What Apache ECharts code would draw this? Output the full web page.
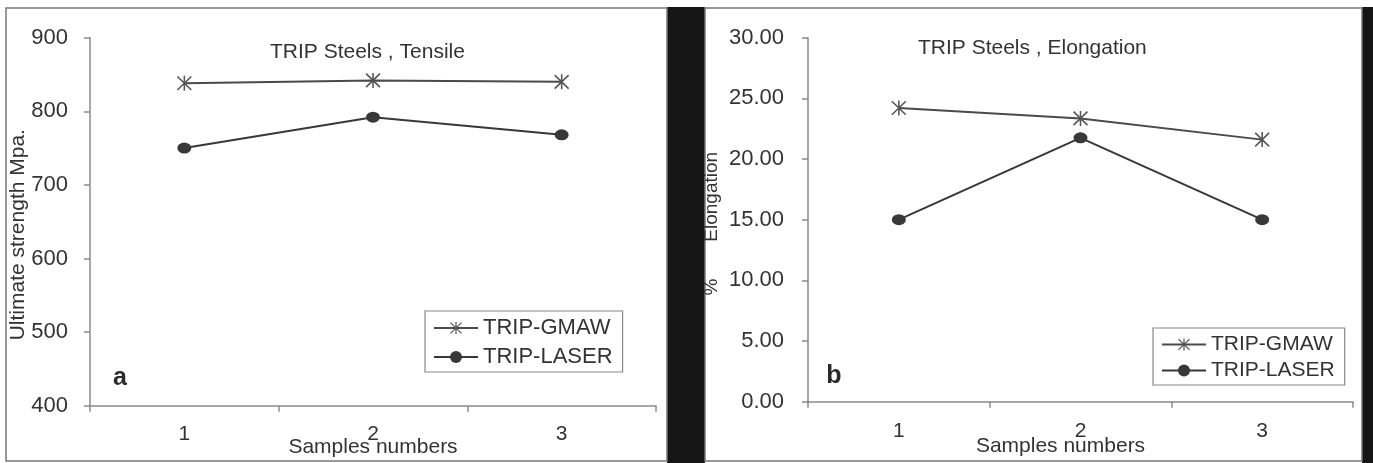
<!DOCTYPE html>
<html>
<head>
<meta charset="utf-8">
<title>TRIP Steels</title>
<script src="https://cdn.jsdelivr.net/npm/echarts@6/dist/echarts.min.js"></script>
<style>
  html, body { margin: 0; padding: 0; background: #fff; }
  #main_echarts { width: 1373px; height: 463px; }
</style>
</head>
<body>
<div id="main_echarts"></div>
<script>
// data
const categories = ['1', '2', '3'];
const tensileGmaw = [838, 842, 840];
const tensileLaser = [750, 792, 768];
const elongGmaw = [24.2, 23.35, 21.6];
const elongLaser = [15.0, 21.75, 15.0];
const seriesNames = ['TRIP-GMAW', 'TRIP-LASER'];

const font = "'Liberation Sans', Arial, sans-serif";
const textColor = '#333';
const axisColor = '#8a8a8a';

// asterisk marker (vertical bar + X), all polygons same winding
const starSymbol = 'path://M9,0 L11,0 L11,20 L9,20 Z M0.3,1.7 L1.7,0.3 L19.7,18.3 L18.3,19.7 Z M18.3,0.3 L19.7,1.7 L1.7,19.7 L0.3,18.3 Z';
const dotSymbol = 'path://M0,5 A5,5 0 1,1 10,5 A5,5 0 1,1 0,5 Z';

function xAxisFor(gridIndex, labelMargin, nameGap, namePad) {
    return {
        type: 'category',
        gridIndex: gridIndex,
        data: categories,
        boundaryGap: true,
        name: 'Samples numbers',
        nameLocation: 'middle',
        nameGap: nameGap,
        nameMoveOverlap: false,
        nameTextStyle: { fontFamily: font, fontSize: 21, color: textColor, padding: namePad },
        axisLine: { lineStyle: { color: axisColor, width: 1.5 } },
        axisTick: { show: true, interval: 0, length: 6, lineStyle: { color: axisColor, width: 1.5 } },
        axisLabel: { margin: labelMargin, fontFamily: font, fontSize: 21, color: textColor },
        splitLine: { show: false }
    };
}

function lineSeries(name, gridIndex, data) {
    const isGmaw = name === seriesNames[0];
    return {
        name: name,
        type: 'line',
        xAxisIndex: gridIndex,
        yAxisIndex: gridIndex,
        data: data,
        symbol: isGmaw ? starSymbol : dotSymbol,
        symbolSize: isGmaw ? [15, 15] : [14, 11],
        showSymbol: true,
        color: isGmaw ? '#555' : '#383838',
        lineStyle: { color: isGmaw ? '#4a4a4a' : '#383838', width: 2 },
        itemStyle: { color: isGmaw ? '#555' : '#383838' },
        animation: false
    };
}

function legendFor(left, top, fontSize, gap) {
    return {
        data: seriesNames,
        orient: 'vertical',
        left: left,
        top: top,
        itemWidth: 44,
        itemHeight: 15,
        itemGap: gap,
        padding: [6, 10, 4, 8],
        borderColor: '#888',
        borderWidth: 1.2,
        selectedMode: false,
        textStyle: { fontFamily: font, fontSize: fontSize, color: textColor }
    };
}

var myChart = echarts.init(document.getElementById('main_echarts'));
myChart.setOption({
    backgroundColor: '#fff',
    animation: false,
    title: [
        { text: 'TRIP Steels , Tensile', left: 270, top: 42, padding: 0,
          textStyle: { fontFamily: font, fontSize: 21, fontWeight: 'normal', color: textColor } },
        { text: 'TRIP Steels , Elongation', left: 918, top: 38, padding: 0,
          textStyle: { fontFamily: font, fontSize: 21, fontWeight: 'normal', color: textColor } }
    ],
    legend: [
        legendFor(425, 311, 22, 7),
        legendFor(1153, 328, 21, 5)
    ],
    grid: [
        { left: 90, right: 1373 - 656, top: 37.7, bottom: 463 - 405.7, outerBoundsMode: 'none', containLabel: false },
        { left: 808, right: 1373 - 1353, top: 37.7, bottom: 463 - 401.7, outerBoundsMode: 'none', containLabel: false }
    ],
    xAxis: [
        xAxisFor(0, 18, 31, [0, 0, 0, 0]),
        xAxisFor(1, 19, 34, [0, 40, 0, 0])
    ],
    yAxis: [
        {
            type: 'value', gridIndex: 0, min: 400, max: 900, interval: 100,
            name: 'Ultimate strength Mpa.', nameLocation: 'middle', nameGap: 61, nameRotate: 90,
            nameMoveOverlap: false,
            nameTextStyle: { fontFamily: font, fontSize: 21, color: textColor, padding: [0, 26, 0, 0] },
            axisLine: { show: true, lineStyle: { color: axisColor, width: 1.5 } },
            axisTick: { show: true, length: 6, lineStyle: { color: axisColor, width: 1.5 } },
            axisLabel: { margin: 22, fontFamily: font, fontSize: 22, color: textColor },
            splitLine: { show: false }
        },
        {
            type: 'value', gridIndex: 1, min: 0, max: 30, interval: 5,
            name: '%       Elongation', nameLocation: 'middle', nameGap: 87, nameRotate: 90,
            nameMoveOverlap: false,
            nameTextStyle: { fontFamily: font, fontSize: 19, color: textColor, padding: [0, 8, 0, 0] },
            axisLine: { show: true, lineStyle: { color: axisColor, width: 1.5 } },
            axisTick: { show: true, length: 6, lineStyle: { color: axisColor, width: 1.5 } },
            axisLabel: { margin: 24, fontFamily: font, fontSize: 22, color: textColor,
                         formatter: function (v) { return v.toFixed(2); } },
            splitLine: { show: false }
        }
    ],
    series: [
        lineSeries(seriesNames[0], 0, tensileGmaw),
        lineSeries(seriesNames[1], 0, tensileLaser),
        lineSeries(seriesNames[0], 1, elongGmaw),
        lineSeries(seriesNames[1], 1, elongLaser)
    ],
    graphic: [
        // panel frames and the black band between / after them
        { type: 'rect', shape: { x: 667, y: 7, width: 38, height: 456 }, style: { fill: '#151515' }, silent: true },
        { type: 'rect', shape: { x: 1362, y: 7, width: 11, height: 456 }, style: { fill: '#151515' }, silent: true },
        { type: 'rect', shape: { x: 6, y: 8, width: 661, height: 453 }, style: { fill: 'none', stroke: '#777', lineWidth: 1.5 }, silent: true },
        { type: 'rect', shape: { x: 705, y: 8, width: 657, height: 453 }, style: { fill: 'none', stroke: '#777', lineWidth: 1.5 }, silent: true },
        { type: 'text', x: 120, y: 378, style: { text: 'a', fontFamily: font, fontSize: 25, fontWeight: 'bold', fill: '#2a2a2a', align: 'center', verticalAlign: 'middle' }, silent: true },
        { type: 'text', x: 834, y: 376, style: { text: 'b', fontFamily: font, fontSize: 25, fontWeight: 'bold', fill: '#2a2a2a', align: 'center', verticalAlign: 'middle' }, silent: true }
    ]
});
</script>
</body>
</html>
